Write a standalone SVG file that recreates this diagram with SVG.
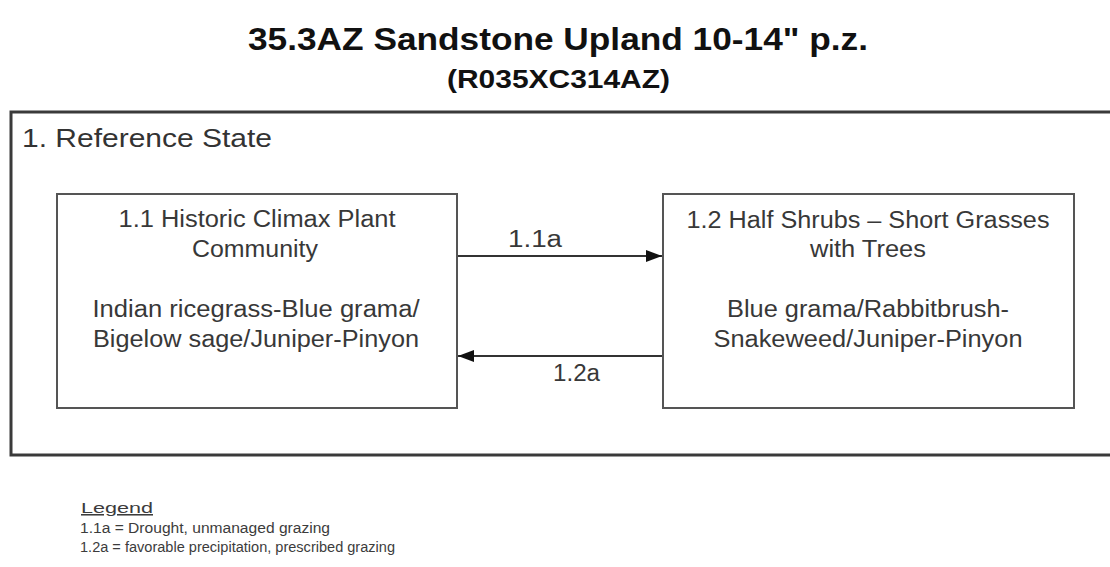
<svg xmlns="http://www.w3.org/2000/svg" width="1110" height="567" viewBox="0 0 1110 567">
<defs>
<style>
text{font-family:"Liberation Sans",Arial,sans-serif;}
.title{font-weight:bold;fill:#111;}
.state{font-size:26px;fill:#333;}
.box{fill:#fff;stroke:#555;stroke-width:2;}
.bt{font-size:23px;fill:#383838;text-anchor:middle;}
.lbl{font-size:23px;fill:#383838;}
.leg{font-size:15.5px;fill:#3c3c3c;}
.conn{stroke:#333;stroke-width:2;fill:none;}
</style>
<marker id="ah" viewBox="0 0 16 12" refX="16" refY="6" markerWidth="16" markerHeight="12" markerUnits="userSpaceOnUse" orient="auto">
<path d="M0,0 L16,6 L0,12 Z" fill="#111"/>
</marker>
</defs>
<rect width="1110" height="567" fill="#fff"/>
<g id="title">
<text class="title" x="248" y="50" font-size="32" textLength="620" lengthAdjust="spacingAndGlyphs">35.3AZ Sandstone Upland 10-14" p.z.</text>
<text class="title" x="447" y="88" font-size="26" textLength="223" lengthAdjust="spacingAndGlyphs">(R035XC314AZ)</text>
</g>
<g id="state1">
<rect x="11" y="112" width="1110" height="343" fill="none" stroke="#3a3a3a" stroke-width="3"/>
<text class="state" x="22" y="147" textLength="250" lengthAdjust="spacingAndGlyphs">1. Reference State</text>
</g>
<g id="node-1-1">
<rect class="box" x="57" y="194" width="400" height="214"/>
<text class="bt" x="257" y="227" textLength="277" lengthAdjust="spacingAndGlyphs">1.1 Historic Climax Plant</text>
<text class="bt" x="255" y="257" textLength="126" lengthAdjust="spacingAndGlyphs">Community</text>
<text class="bt" x="256" y="317" textLength="327" lengthAdjust="spacingAndGlyphs">Indian ricegrass-Blue grama/</text>
<text class="bt" x="256" y="347" textLength="326" lengthAdjust="spacingAndGlyphs">Bigelow sage/Juniper-Pinyon</text>
</g>
<g id="node-1-2">
<rect class="box" x="663" y="194" width="411" height="214"/>
<text class="bt" x="868" y="228" textLength="363" lengthAdjust="spacingAndGlyphs">1.2 Half Shrubs – Short Grasses</text>
<text class="bt" x="868" y="257" textLength="116" lengthAdjust="spacingAndGlyphs">with Trees</text>
<text class="bt" x="868" y="317" textLength="282" lengthAdjust="spacingAndGlyphs">Blue grama/Rabbitbrush-</text>
<text class="bt" x="868" y="347" textLength="309" lengthAdjust="spacingAndGlyphs">Snakeweed/Juniper-Pinyon</text>
</g>
<g id="connectors">
<line class="conn" x1="458" y1="256" x2="662" y2="256" marker-end="url(#ah)"/>
<text class="lbl" x="508" y="247" textLength="54" lengthAdjust="spacingAndGlyphs">1.1a</text>
<line class="conn" x1="662" y1="356" x2="458" y2="356" marker-end="url(#ah)"/>
<text class="lbl" x="553" y="381" textLength="47" lengthAdjust="spacingAndGlyphs">1.2a</text>
</g>
<g id="legend">
<text class="leg" x="81" y="513" text-decoration="underline" textLength="72" lengthAdjust="spacingAndGlyphs">Legend</text>
<text class="leg" x="80" y="533" textLength="250" lengthAdjust="spacingAndGlyphs">1.1a = Drought, unmanaged grazing</text>
<text class="leg" x="80" y="552" textLength="315" lengthAdjust="spacingAndGlyphs">1.2a = favorable precipitation, prescribed grazing</text>
</g>
</svg>
